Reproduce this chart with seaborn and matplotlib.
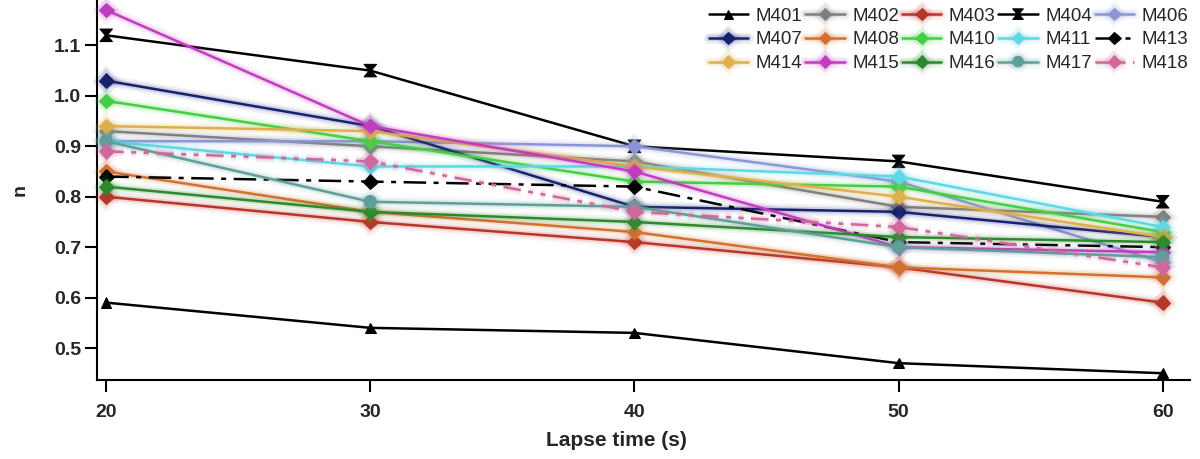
import numpy as np
import pandas as pd
import matplotlib
matplotlib.use("Agg")
import matplotlib.pyplot as plt
import matplotlib.patheffects as pe
from matplotlib.path import Path
import seaborn as sns

lapse = [20, 30, 40, 50, 60]
names = ["M401", "M402", "M403", "M404", "M406",
         "M407", "M408", "M410", "M411", "M413",
         "M414", "M415", "M416", "M417", "M418"]
M401 = [0.59, 0.54, 0.53, 0.47, 0.45]
M402 = [0.93, 0.90, 0.87, 0.78, 0.76]
M403 = [0.80, 0.75, 0.71, 0.66, 0.59]
M404 = [1.12, 1.05, 0.90, 0.87, 0.79]
M406 = [0.91, 0.91, 0.90, 0.83, 0.67]
M407 = [1.03, 0.94, 0.78, 0.77, 0.72]
M408 = [0.85, 0.77, 0.73, 0.66, 0.64]
M410 = [0.99, 0.91, 0.83, 0.82, 0.73]
M411 = [0.91, 0.86, 0.86, 0.84, 0.74]
M413 = [0.84, 0.83, 0.82, 0.71, 0.70]
M414 = [0.94, 0.93, 0.86, 0.80, 0.72]
M415 = [1.17, 0.94, 0.85, 0.70, 0.69]
M416 = [0.82, 0.77, 0.75, 0.72, 0.71]
M417 = [0.91, 0.79, 0.78, 0.70, 0.68]
M418 = [0.89, 0.87, 0.77, 0.74, 0.66]
series = [M401, M402, M403, M404, M406, M407, M408, M410, M411, M413,
          M414, M415, M416, M417, M418]

colors = ["#000000", "#7f7f7f", "#b8352a", "#000000", "#8d96d4",
          "#16206e", "#d2722e", "#43cf43", "#5fd8e6", "#000000",
          "#ddb04c", "#c23cc0", "#2c8a2c", "#5e9f98", "#d0689c"]

hourglass = Path([(-1, 1), (1, 1), (0.15, 0), (1, -1), (-1, -1), (-0.15, 0), (-1, 1)],
                 [Path.MOVETO, Path.LINETO, Path.LINETO, Path.LINETO, Path.LINETO,
                  Path.LINETO, Path.CLOSEPOLY])
markers = ["^", "D", "D", hourglass, "D", "D", "D", "D", "D", "D",
           "D", "D", "D", "o", "D"]
styles = ["-"] * 15
styles[9] = (0, (9, 3, 2, 3))
styles[14] = (0, (7, 3, 2, 3, 2, 3))

rows = []
for nm, vals in zip(names, series):
    for x, v in zip(lapse, vals):
        rows.append({"series": nm, "lapse": x, "n": v})
df = pd.DataFrame(rows)

sns.set_style("ticks")
plt.rcParams["font.family"] = ["Liberation Sans", "DejaVu Sans"]

fig = plt.figure(figsize=(12, 4.59), dpi=100)
ax = fig.add_axes([0.081, 0.172, 0.911, 0.828])

for i, nm in enumerate(names):
    sub = df[df["series"] == nm]
    c = colors[i]
    if c == "#000000":
        glow = [pe.Normal()]
    else:
        glow = [pe.Stroke(linewidth=8, foreground=c, alpha=0.07),
                pe.Stroke(linewidth=4.5, foreground=c, alpha=0.15),
                pe.Normal()]
    ms = 9 if (markers[i] == "o" or i == 3) else 7.5
    sns.lineplot(data=sub, x="lapse", y="n", ax=ax, color=c, marker=markers[i],
                 markersize=ms, markeredgecolor=c, linewidth=1.8,
                 linestyle=styles[i], label=nm, path_effects=glow,
                 clip_on=False, zorder=3)

ax.set_xlim(19.66, 61.05)
ax.set_ylim(0.4365, 1.19)
ax.set_xticks([20, 30, 40, 50, 60])
ax.set_yticks([0.5, 0.6, 0.7, 0.8, 0.9, 1.0, 1.1])
ax.set_yticklabels(["0.5", "0.6", "0.7", "0.8", "0.9", "1.0", "1.1"])
for lab in ax.get_xticklabels() + ax.get_yticklabels():
    lab.set_fontweight("bold")
    lab.set_fontsize(14)
ax.tick_params(axis="both", direction="out", length=8.5, width=1.5, color="black")
ax.tick_params(axis="x", pad=9)
ax.tick_params(axis="y", pad=3)
for s in ["top", "right"]:
    ax.spines[s].set_visible(False)
for s in ["left", "bottom"]:
    ax.spines[s].set_linewidth(1.5)
    ax.spines[s].set_color("black")
ax.set_xlabel("Lapse time (s)", fontweight="bold", fontsize=15, labelpad=4)
ax.xaxis.set_label_coords(0.475, -0.135)
ax.set_ylabel("n", fontweight="bold", fontsize=14, labelpad=18)

handles, labels = ax.get_legend_handles_labels()
order = [r * 5 + c for c in range(5) for r in range(3)]
ax.legend([handles[k] for k in order], [labels[k] for k in order],
          ncol=5, loc="upper right", bbox_to_anchor=(1.0, 0.985), frameon=False,
          fontsize=13.5, handlelength=2.1, handletextpad=0.4, columnspacing=0.15,
          labelspacing=0.35, borderaxespad=0.0, borderpad=0.1, markerscale=0.85)

fig.savefig("out.png", dpi=100)
